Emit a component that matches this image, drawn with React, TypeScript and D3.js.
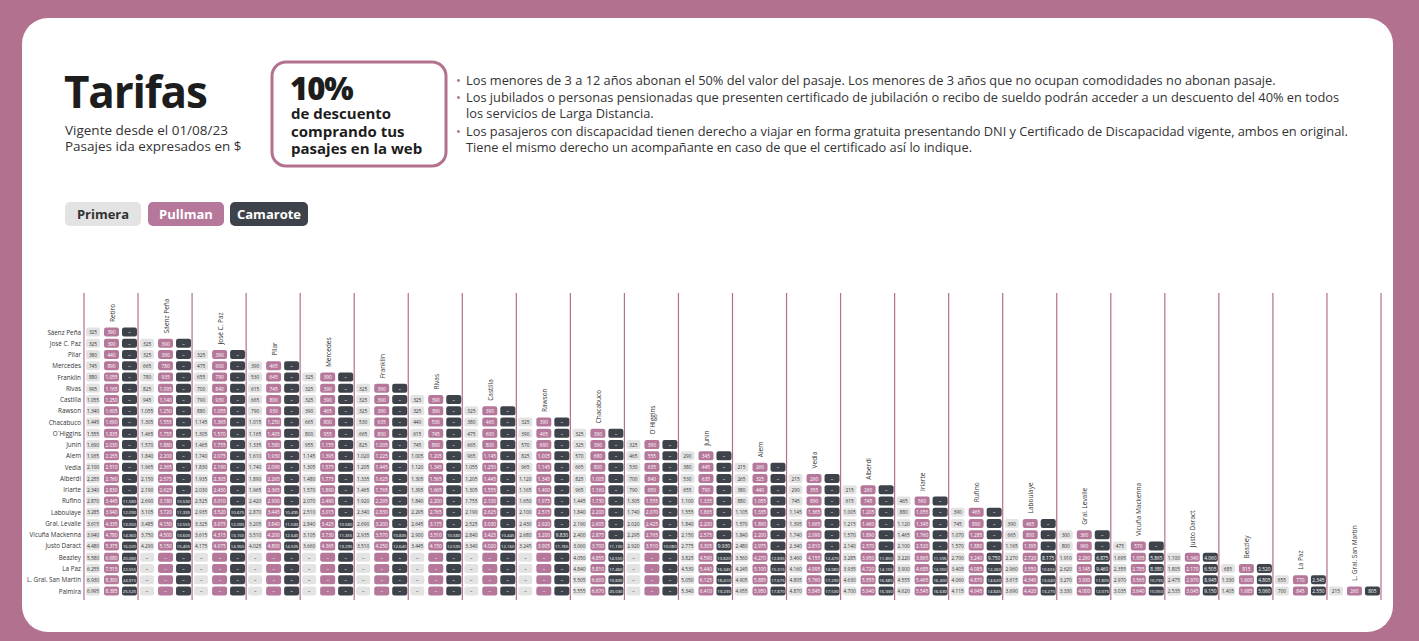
import React from 'react';
import * as d3 from 'd3';

// rows (destinos) and columns (origenes)
const stations = ['Sáenz Peña', 'José C. Paz', 'Pilar', 'Mercedes', 'Franklin', 'Rivas', 'Castilla', 'Rawson', 'Chacabuco', 'O´Higgins', 'Junín', 'Alem', 'Vedia', 'Alberdi', 'Iriarte', 'Rufino', 'Laboulaye', 'Gral. Levalle', 'Vicuña Mackenna', 'Justo Daract', 'Beazley', 'La Paz', 'L. Gral. San Martín', 'Palmira'];
const origins = ['Retiro', 'Sáenz Peña', 'José C. Paz', 'Pilar', 'Mercedes', 'Franklin', 'Rivas', 'Castilla', 'Rawson', 'Chacabuco', 'O´Higgins', 'Junín', 'Alem', 'Vedia', 'Alberdi', 'Iriarte', 'Rufino', 'Laboulaye', 'Gral. Levalle', 'Vicuña Mackenna', 'Justo Daract', 'Beazley', 'La Paz', 'L. Gral. San Martín'];
const classes = ['Primera', 'Pullman', 'Camarote'];

const _ = null;
// each column j starts at row j (stations[j])
const primera = [
  [325, 325, 380, 745, 880, 995, 1055, 1340, 1445, 1555, 1690, 1935, 2100, 2255, 2340, 2870, 3285, 3615, 3940, 4480, 5580, 6255, 6930, 6995],
  [325, 325, 665, 780, 825, 945, 1055, 1305, 1465, 1570, 1840, 1965, 2150, 2190, 2690, 3105, 3485, 3750, 4290, _, _, _, _],
  [325, 475, 655, 700, 790, 880, 1145, 1305, 1465, 1740, 1830, 1935, 2030, 2525, 2935, 3325, 3615, 4175, _, _, _, _],
  [390, 530, 615, 665, 790, 1015, 1165, 1335, 1610, 1740, 1890, 1965, 2420, 2870, 3205, 3510, 4025, _, _, _, _],
  [325, 325, 325, 390, 665, 800, 955, 1145, 1305, 1480, 1570, 2070, 2510, 2840, 3105, 3660, _, _, _, _],
  [325, 325, 325, 530, 665, 825, 1020, 1205, 1335, 1465, 1920, 2340, 2690, 2935, 3510, _, _, _, _],
  [325, 325, 440, 615, 745, 1005, 1120, 1305, 1395, 1840, 2295, 2645, 2900, 3445, _, _, _, _],
  [325, 380, 475, 665, 965, 1055, 1205, 1305, 1755, 2190, 2525, 2840, 3340, _, _, _, _],
  [325, 390, 570, 825, 965, 1120, 1165, 1650, 2100, 2430, 2680, 3245, _, _, _, _],
  [325, 325, 570, 665, 825, 965, 1445, 1840, 2190, 2400, 3060, 4050, 4840, 5505, 5555],
  [325, 465, 530, 700, 790, 1305, 1740, 2020, 2295, 2920, _, _, _, _],
  [290, 380, 530, 655, 1100, 1555, 1840, 2150, 2775, 3825, 4530, 5050, 5340],
  [215, 265, 380, 880, 1105, 1570, 1840, 2480, 3560, 4245, 4905, 4955],
  [215, 290, 745, 1145, 1395, 1740, 2340, 3460, 4160, 4805, 4870],
  [215, 615, 1005, 1215, 1570, 2140, 3285, 3935, 4630, 4700],
  [465, 880, 1120, 1465, 2100, 3220, 3900, 4555, 4620],
  [390, 745, 1070, 1570, 2700, 3405, 4060, 4115],
  [390, 665, 1165, 2270, 2960, 3615, 3690],
  [300, 800, 1910, 2620, 3270, 3330],
  [475, 1695, 2355, 2970, 3035],
  [1100, 1805, 2475, 2535],
  [685, 1330, 1405],
  [655, 700],
  [215],
];
const pullman = [
  [390, 390, 440, 890, 1055, 1165, 1250, 1605, 1690, 1835, 2030, 2255, 2510, 2760, 2830, 3445, 3940, 4335, 4780, 5375, 6680, 7515, 8300, 8385],
  [390, 390, 780, 935, 1095, 1140, 1250, 1555, 1755, 1880, 2200, 2365, 2575, 2625, 3180, 3720, 4150, 4500, 5150, _, _, _, _],
  [390, 600, 790, 840, 930, 1055, 1365, 1570, 1755, 2075, 2190, 2305, 2430, 3010, 3520, 3975, 4315, 4975, _, _, _, _],
  [465, 645, 745, 800, 930, 1250, 1405, 1580, 1930, 2090, 2265, 2365, 2900, 3445, 3840, 4200, 4800, _, _, _, _],
  [390, 390, 390, 465, 800, 955, 1155, 1395, 1575, 1775, 1890, 2490, 3015, 3425, 3730, 4365, _, _, _, _],
  [390, 390, 390, 635, 800, 1005, 1225, 1445, 1625, 1765, 2295, 2830, 3200, 3570, 4250, _, _, _, _],
  [390, 390, 530, 745, 890, 1205, 1345, 1565, 1665, 2200, 2765, 3175, 3510, 4150, _, _, _, _],
  [390, 460, 600, 800, 1145, 1250, 1445, 1555, 2100, 2625, 3030, 3425, 4020, _, _, _, _],
  [390, 465, 690, 1005, 1145, 1345, 1400, 1975, 2515, 2920, 3200, 3905, _, _, _, _],
  [390, 390, 680, 800, 1005, 1160, 1730, 2200, 2605, 2875, 3700, 4855, 5810, 6600, 6670],
  [390, 555, 635, 840, 950, 1555, 2070, 2425, 2765, 3510, _, _, _, _],
  [345, 445, 635, 790, 1335, 1865, 2200, 2575, 3305, 4590, 5440, 6125, 6410],
  [260, 325, 440, 1055, 1335, 1890, 2200, 2975, 4270, 5100, 5885, 5950],
  [260, 355, 890, 1365, 1665, 2090, 2810, 4155, 4995, 5760, 5845],
  [260, 745, 1205, 1460, 1890, 2570, 3950, 4720, 5555, 5640],
  [560, 1055, 1345, 1760, 2520, 3865, 4685, 5465, 5545],
  [465, 890, 1285, 1880, 3240, 4085, 4870, 4945],
  [465, 800, 1395, 2720, 3550, 4340, 4420],
  [360, 960, 2290, 3145, 3930, 4000],
  [570, 1955, 2785, 3565, 3640],
  [1340, 2170, 2970, 3045],
  [815, 1600, 1685],
  [770, 845],
  [260],
];
const camarote = [
  [_, _, _, _, _, _, _, _, _, _, _, _, _, _, _, 11580, 12090, 13050, 14360, 16020, 20080, 22555, 24915, 25525],
  [_, _, _, _, _, _, _, _, _, _, _, _, _, _, 10530, 11335, 12555, 13600, 15405, _, _, _, _],
  [_, _, _, _, _, _, _, _, _, _, _, _, _, _, 10675, 12090, 13150, 14950, _, _, _, _],
  [_, _, _, _, _, _, _, _, _, _, _, _, _, 10495, 11530, 12640, 14505, _, _, _, _],
  [_, _, _, _, _, _, _, _, _, _, _, _, _, 10580, 11355, 13295, _, _, _, _],
  [_, _, _, _, _, _, _, _, _, _, _, _, _, 10835, 12640, _, _, _, _],
  [_, _, _, _, _, _, _, _, _, _, _, _, 10580, 12535, _, _, _, _],
  [_, _, _, _, _, _, _, _, _, _, _, 10445, 12160, _, _, _, _],
  [_, _, _, _, _, _, _, _, _, _, 9830, 11765, _, _, _, _],
  [_, _, _, _, _, _, _, _, _, _, 11100, 14550, 17460, 19830, 20030],
  [_, _, _, _, _, _, _, _, _, 10080, _, _, _, _],
  [_, _, _, _, _, _, _, _, 9930, 13820, 16345, 18410, 19235],
  [_, _, _, _, _, _, _, _, 12835, 15315, 17675, 17870],
  [_, _, _, _, _, _, _, 12470, 14980, 17290, 17530],
  [_, _, _, _, _, _, 11850, 14155, 16685, 16930],
  [_, _, _, _, _, 11595, 14050, 16400, 16630],
  [_, _, _, _, 9750, 12260, 14620, 14845],
  [_, _, _, 8175, 10655, 13040, 13270],
  [_, _, 6875, 9460, 11805, 12075],
  [_, 5865, 8380, 10735, 10950],
  [4060, 6505, 8945, 9150],
  [2520, 4805, 5060],
  [2345, 2550],
  [805],
];

const bullets = [
  ['Los menores de 3 a 12 años abonan el 50% del valor del pasaje. Los menores de 3 años que no ocupan comodidades no abonan pasaje.'],
  ['Los jubilados o personas pensionadas que presenten certificado de jubilación o recibo de sueldo podrán acceder a un descuento del 40% en todos', 'los servicios de Larga Distancia.'],
  ['Los pasajeros con discapacidad tienen derecho a viajar en forma gratuita presentando DNI y Certificado de Discapacidad vigente, ambos en original.', 'Tiene el mismo derecho un acompañante en caso de que el certificado así lo indique.'],
];

const W = 1419, H = 641;
const MAUVE = '#b2718f';
const FONT = "'Open Sans', 'Noto Sans', sans-serif";
const fills = { Primera: '#e3e3e3', Pullman: '#b5779a', Camarote: '#3e434b' };
const inks = { Primera: '#333', Pullman: '#fff', Camarote: '#fff' };

const locale = d3.formatLocale({ decimal: ',', thousands: '.', grouping: [3], currency: ['$', ''] });
const fmt = locale.format(',d');

export default function App() {
  const x = d3.scaleLinear().domain([0, origins.length]).range([84, 1381]);
  const y = d3.scalePoint().domain(stations).range([332, 591]);
  const off = d3.scaleOrdinal().domain(classes).range([2, 20, 38]);
  const cw = d3.scaleOrdinal().domain(classes).range([14, 15, 15]);
  const series = { Primera: primera, Pullman: pullman, Camarote: camarote };

  // bullet lines: a bit more room between bullets than inside one
  let lineY = 84.5;
  const bulletLines = [];
  bullets.forEach((b) => {
    b.forEach((t, i) => {
      bulletLines.push({ t, y: lineY, dot: i === 0 });
      lineY += 16;
    });
    lineY += 1.5;
  });

  return (
    <svg width={W} height={H} style={{ position: 'absolute', left: 0, top: 0 }} fontFamily={FONT}>
      <rect width={W} height={H} fill={MAUVE} />
      <rect x={22} y={18} width={1371} height={614} rx={26} fill="#fff" />

      {/* header */}
      <text x={64} y={108} fontSize={44} fontWeight={700} fill="#1d1d1d" letterSpacing={-1.2}>Tarifas</text>
      <text x={65} y={135} fontSize={13.5} fill="#333">Vigente desde el 01/08/23</text>
      <text x={65} y={151} fontSize={13.5} fill="#333">Pasajes ida expresados en $</text>

      <rect x={272} y={62} width={174} height={104} rx={14} fill="none" stroke={MAUVE} strokeWidth={3} />
      <text x={290} y={100} fontSize={31} fontWeight={800} fill="#1d1d1d" letterSpacing={-1}>10%</text>
      {['de descuento', 'comprando tus', 'pasajes en la web'].map((t, i) => (
        <text key={t} x={291} y={119 + i * 17.5} fontSize={15} fontWeight={700} fill="#1d1d1d">{t}</text>
      ))}

      {bulletLines.map((l, i) => (
        <g key={i}>
          {l.dot && <text x={456} y={l.y} fontSize={13} fill={MAUVE}>•</text>}
          <text x={466} y={l.y} fontSize={12.8} fill="#333">{l.t}</text>
        </g>
      ))}

      {/* legend */}
      {classes.map((c, i) => {
        const lx = [65, 148, 230][i];
        const lw = [76, 76, 78][i];
        return (
          <g key={c}>
            <rect x={lx} y={202} width={lw} height={24} rx={5} fill={fills[c]} />
            <text x={lx + lw / 2} y={219} fontSize={13} fontWeight={700} textAnchor="middle" fill={inks[c]}>{c}</text>
          </g>
        );
      })}

      {/* table */}
      {d3.range(origins.length + 1).map((j) => (
        <line key={'v' + j} x1={x(j)} x2={x(j)} y1={293} y2={600} stroke={MAUVE} strokeWidth={1.2} />
      ))}
      {stations.map((s) => (
        <text key={s} x={81} y={y(s)} fontSize={6.3} textAnchor="end" dominantBaseline="central" fill="#333">{s}</text>
      ))}
      {origins.map((o, j) => (
        <text key={'h' + j} transform={`translate(${x(j) + 28},${y(stations[j]) - 10}) rotate(-90)`}
          fontSize={6.5} fill="#333" dominantBaseline="central">{o}</text>
      ))}
      {origins.map((o, j) => (
        <g key={'c' + j}>
          {classes.map((c) =>
            series[c][j].map((v, k) => {
              const sy = y(stations[j + k]);
              const cx = x(j) + off(c);
              return (
                <g key={c + k}>
                  <rect x={cx} y={sy - 4.5} width={cw(c)} height={9} rx={2.2} fill={fills[c]} />
                  <text x={cx + cw(c) / 2} y={sy + 0.3} fontSize={v !== null && v >= 10000 ? 4.3 : 4.8} textAnchor="middle"
                    dominantBaseline="central" fill={inks[c]}>{v === null ? '–' : fmt(v)}</text>
                </g>
              );
            })
          )}
        </g>
      ))}
    </svg>
  );
}
